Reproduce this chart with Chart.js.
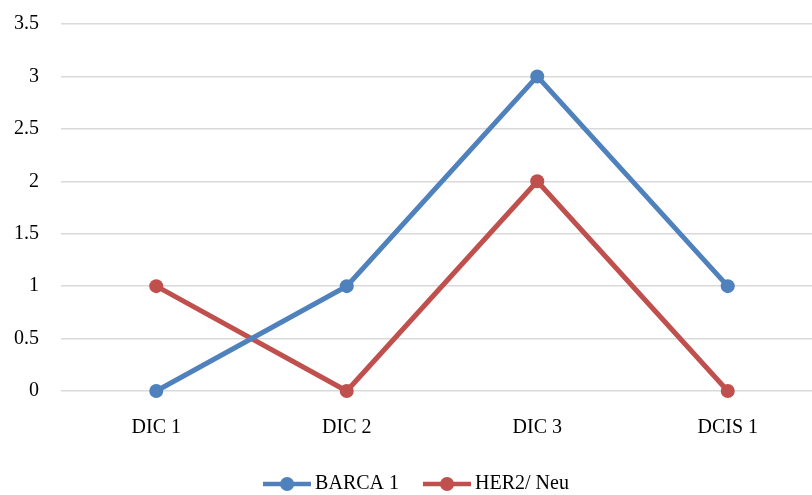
<!DOCTYPE html>
<html>
<head>
<meta charset="utf-8">
<script src="https://cdn.jsdelivr.net/npm/chart.js@4/dist/chart.umd.min.js"></script>
<style>
html,body{margin:0;padding:0;background:#fff;overflow:hidden;}
#wrap{position:relative;width:830px;height:495px;}
</style>
</head>
<body>
<div id="wrap"><canvas id="c"></canvas></div>
<script>
const categories = ["DIC 1", "DIC 2", "DIC 3", "DCIS 1"];
const barca1 = [0, 1, 3, 1];
const her2Neu = [1, 0, 2, 0];
const seriesNames = ["BARCA 1", "HER2/ Neu"];
const yTicks = [0, 0.5, 1, 1.5, 2, 2.5, 3, 3.5];

const BLUE = "#4F81BD";
const RED = "#C0504D";
const FONT = "'Liberation Serif', serif";

function legendIcon(color) {
  const cv = document.createElement("canvas");
  cv.width = 48; cv.height = 16;
  const g = cv.getContext("2d");
  g.strokeStyle = color; g.lineWidth = 4.5;
  g.beginPath(); g.moveTo(0, 8); g.lineTo(48, 8); g.stroke();
  g.fillStyle = color;
  g.beginPath(); g.arc(24, 8, 7, 0, Math.PI * 2); g.fill();
  return cv;
}

const legendShift = {
  id: "legendShift",
  afterLayout(chart) {
    const lg = chart.legend;
    if (lg) { lg.top += 9; lg.bottom += 9; }
  }
};

new Chart(document.getElementById("c"), {
  type: "line",
  data: {
    labels: categories,
    datasets: [
      { label: seriesNames[0], data: barca1, borderColor: BLUE, backgroundColor: BLUE,
        borderWidth: 5, pointRadius: 7, pointHoverRadius: 7, pointBorderWidth: 0,
        tension: 0, pointStyle: "circle", clip: false },
      { label: seriesNames[1], data: her2Neu, borderColor: RED, backgroundColor: RED,
        borderWidth: 5, pointRadius: 7, pointHoverRadius: 7, pointBorderWidth: 0,
        tension: 0, pointStyle: "circle", clip: false }
    ]
  },
  plugins: [legendShift],
  options: {
    responsive: true,
    maintainAspectRatio: false,
    animation: false,
    layout: { padding: { top: 24, right: 2, left: 10, bottom: 0 } },
    plugins: {
      tooltip: { enabled: false },
      legend: {
        position: "bottom",
        labels: {
          font: { family: FONT, size: 20 },
          color: "#000",
          usePointStyle: true,
          pointStyleWidth: 36,
          boxHeight: 16,
          padding: 30,
          generateLabels: (chart) => chart.data.datasets.map((ds, i) => ({
            text: ds.label,
            pointStyle: legendIcon(ds.borderColor),
            fillStyle: ds.borderColor,
            strokeStyle: ds.borderColor,
            lineWidth: 0,
            datasetIndex: i,
            hidden: false
          }))
        }
      }
    },
    scales: {
      x: {
        offset: true,
        grid: { display: false, drawTicks: false },
        border: { display: false },
        ticks: { font: { family: FONT, size: 20 }, color: "#000", padding: 25 },
        afterFit: (s) => { s.height = 44; s.paddingLeft = 0; s.paddingRight = 0; }
      },
      y: {
        min: 0, max: 3.5,
        afterBuildTicks: (s) => { s.ticks = yTicks.map(v => ({ value: v })); },
        grid: { color: "#D9D9D9", lineWidth: 1.5, drawTicks: false },
        border: { display: false },
        ticks: { font: { family: FONT, size: 20 }, color: "#000", padding: 22,
          callback: (v) => String(v) },
        afterFit: (s) => { s.width = 51; s.paddingTop = 0; s.paddingBottom = 0; }
      }
    }
  }
});
</script>
</body>
</html>
